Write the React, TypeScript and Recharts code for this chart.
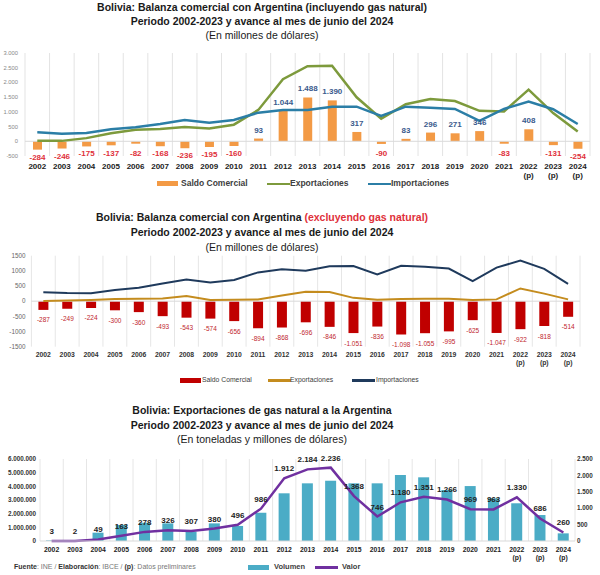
import React from 'react';
import { ComposedChart, Bar, Line, XAxis, YAxis, CartesianGrid, ReferenceLine, LabelList } from 'recharts';

const FONT = '"Liberation Sans", Arial, sans-serif';
const NARROW = '"Liberation Sans Narrow", "Liberation Sans", Arial, sans-serif';

const years = [
  '2002', '2003', '2004', '2005', '2006', '2007', '2008', '2009', '2010', '2011', '2012',
  '2013', '2014', '2015', '2016', '2017', '2018', '2019', '2020', '2021', '2022 (p)', '2023 (p)', '2024 (p)',
];

// con gas natural (millones USD)
const saldoCon = [-284, -246, -175, -137, -82, -168, -236, -195, -160, 93, 1044, 1488, 1390, 317, -90, 83, 296, 271, 346, -83, 408, -131, -254];
const exportCon = [22, 14, 107, 271, 394, 420, 488, 438, 564, 1066, 2109, 2553, 2567, 1494, 771, 1260, 1439, 1370, 1036, 1016, 1755, 959, 334];
const importCon = [306, 260, 282, 408, 476, 588, 724, 633, 724, 973, 1065, 1065, 1177, 1177, 861, 1177, 1143, 1099, 690, 1099, 1347, 1090, 588];
const ticksCon = [-500, 0, 500, 1000, 1500, 2000, 2500, 3000];

// sin gas natural (millones USD)
const saldoSin = [-287, -249, -224, -300, -360, -493, -543, -574, -656, -894, -868, -696, -846, -1051, -836, -1098, -1055, -995, -625, -1047, -922, -818, -514];
const exportSin = [10, 20, 40, 70, 80, 90, 175, 40, 45, 55, 185, 310, 305, 110, 50, 70, 80, 80, 40, 60, 420, 250, 60];
const importSin = [297, 269, 264, 370, 440, 583, 718, 614, 701, 949, 1053, 1006, 1151, 1160, 886, 1168, 1135, 1075, 665, 1107, 1342, 1068, 574];
const ticksSin = [-1500, -1000, -500, 0, 500, 1000, 1500];

// exportaciones de gas (toneladas / millones USD)
const volumen = [40000, 25000, 610000, 1170000, 1340000, 1290000, 680000, 1290000, 1100000, 2070000, 3490000, 4220000, 4410000, 4220000, 4220000, 4830000, 4660000, 3730000, 4020000, 3120000, 2760000, 1900000, 560000];
const valor = [3, 2, 49, 163, 278, 326, 307, 380, 496, 986, 1912, 2184, 2236, 1368, 746, 1180, 1351, 1266, 969, 963, 1330, 686, 260];
const ticksVol = [0, 1000000, 2000000, 3000000, 4000000, 5000000, 6000000];
const ticksVal = [0, 500, 1000, 1500, 2000, 2500];

const fmt = (v: number) =>
  (v < 0 ? '-' : '') + String(Math.abs(Math.round(v))).replace(/\B(?=(\d{3})+(?!\d))/g, '.');

const data1 = years.map((year, i) => ({ year, saldo: saldoCon[i], exp: exportCon[i], imp: importCon[i] }));
const data2 = years.map((year, i) => ({ year, saldo: saldoSin[i], exp: exportSin[i], imp: importSin[i] }));
const data3 = years.map((year, i) => ({ year, vol: volumen[i], val: valor[i] }));

// grid lines between the categories
const bandLines = ({ offset }: any) => {
  const n = years.length;
  return Array.from({ length: n + 1 }, (_, i) => offset.left + (i * offset.width) / n);
};

const YearTick = (props: any) => {
  const { x, y, payload, size, gap, first, color } = props;
  const [yr, p] = String(payload.value).split(' ');
  return (
    <text x={x} y={y} textAnchor="middle" fontFamily={NARROW} fontSize={size} fontWeight="bold" fill={color}>
      <tspan x={x} dy={first}>{yr}</tspan>
      {p && <tspan x={x} dy={gap}>{p}</tspan>}
    </text>
  );
};

const SaldoLabel1 = (props: any) => {
  const { x, y, width, height, value } = props;
  const top = Math.min(y, y + height);
  const bot = Math.max(y, y + height);
  const cx = x + width / 2;
  const pos = value >= 0;
  return (
    <text
      x={cx}
      y={pos ? top - 6 : Math.max(bot + 10, top + 15)}
      textAnchor="middle"
      fontFamily={NARROW}
      fontSize={8}
      fontWeight="bold"
      fill={pos ? '#3a5a8c' : '#e0303a'}
    >
      {fmt(value)}
    </text>
  );
};

const SaldoLabel2 = (props: any) => {
  const { x, y, width, height, value } = props;
  const bot = Math.max(y, y + height);
  return (
    <text x={x + width / 2} y={bot + 12.5} textAnchor="middle" fontFamily={NARROW} fontSize={6.5} fill="#c0262d">
      {fmt(value)}
    </text>
  );
};

const LineSwatch = ({ color, left, top }: any) => (
  <div style={{ position: 'absolute', left, top, width: 23, height: 2.5, background: color }} />
);
const RectSwatch = ({ color, left, top }: any) => (
  <div style={{ position: 'absolute', left, top, width: 21, height: 5, background: color }} />
);
const LegendText = ({ left, top, size, bold, children }: any) => (
  <div style={{ position: 'absolute', left, top, fontSize: size, fontWeight: bold ? 'bold' : 'normal', color: '#404040', lineHeight: 1, whiteSpace: 'nowrap' }}>
    {children}
  </div>
);

const Title = ({ top, lh, lines }: any) => (
  <div style={{ position: 'absolute', left: 0, top, width: 524, textAlign: 'center', fontSize: 10.5, lineHeight: lh + 'px', color: '#1a1a1a' }}>
    {lines}
  </div>
);

export default function App() {
  const orange = '#f39a45';
  const green = '#7d9a3c';
  const blue = '#2b7ea6';
  const red = '#c00000';
  const gold = '#c48c1e';
  const navy = '#1f3a5c';
  const teal = '#4bacc6';
  const purple = '#7030a0';

  return (
    <div style={{ position: 'absolute', left: 0, top: 0, width: 600, height: 575, background: '#fff', fontFamily: FONT, overflow: 'hidden' }}>
      {/* Chart 1 */}
      <Title
        top={0}
        lh={14}
        lines={
          <>
            <div style={{ fontWeight: 'bold' }}>Bolivia: Balanza comercial con Argentina (incluyendo gas natural)</div>
            <div style={{ fontWeight: 'bold' }}>Periodo 2002-2023 y avance al mes de junio del 2024</div>
            <div>(En millones de dólares)</div>
          </>
        }
      />
      <div style={{ position: 'absolute', left: 0, top: 40 }}>
        <ComposedChart width={600} height={150} data={data1} margin={{ top: 13, right: 10, left: 0, bottom: 14 }}>
          <CartesianGrid horizontal={false} stroke="#e3e3e3" verticalCoordinatesGenerator={bandLines} />
          <XAxis
            dataKey="year"
            height={20}
            interval={0}
            tickSize={0}
            tickMargin={0}
            axisLine={false}
            tick={(p: any) => <YearTick {...p} size={8} first={12.8} gap={9} color="#222" />}
          />
          <YAxis
            domain={[-500, 3000]}
            ticks={ticksCon}
            width={25}
            tickSize={0}
            tickMargin={7}
            axisLine={false}
            tickFormatter={fmt}
            tick={{ fontSize: 5.8, fill: '#888', fontFamily: FONT }}
          />
          <ReferenceLine y={0} stroke="#d9d9d9" />
          <Bar dataKey="saldo" fill={orange} barSize={9} isAnimationActive={false}>
            <LabelList dataKey="saldo" content={SaldoLabel1} />
          </Bar>
          <Line dataKey="exp" stroke={green} strokeWidth={2.5} dot={false} isAnimationActive={false} />
          <Line dataKey="imp" stroke={blue} strokeWidth={2.5} dot={false} isAnimationActive={false} />
        </ComposedChart>
      </div>
      <RectSwatch color={orange} left={157} top={181} />
      <LegendText left={181} top={179} size={8.5} bold>Saldo Comercial</LegendText>
      <LineSwatch color={green} left={267} top={182.5} />
      <LegendText left={290} top={179} size={8.5} bold>Exportaciones</LegendText>
      <LineSwatch color={blue} left={368} top={182.5} />
      <LegendText left={391} top={179} size={8.5} bold>Importaciones</LegendText>

      {/* Chart 2 */}
      <Title
        top={210}
        lh={15}
        lines={
          <>
            <div style={{ fontWeight: 'bold' }}>
              Bolivia: Balanza comercial con Argentina <span style={{ color: '#e0303a' }}>(excluyendo gas natural)</span>
            </div>
            <div style={{ fontWeight: 'bold' }}>Periodo 2002-2023 y avance al mes de junio del 2024</div>
            <div>(En millones de dólares)</div>
          </>
        }
      />
      <div style={{ position: 'absolute', left: 0, top: 245 }}>
        <ComposedChart width={600} height={125} data={data2} margin={{ top: 10.7, right: 20, left: 0, bottom: 5 }}>
          <CartesianGrid horizontal={false} stroke="#e6e6e6" verticalCoordinatesGenerator={bandLines} />
          <XAxis
            dataKey="year"
            height={18.3}
            interval={0}
            tickSize={0}
            tickMargin={0}
            axisLine={false}
            tick={(p: any) => <YearTick {...p} size={6.8} first={10.5} gap={7.5} color="#333" />}
          />
          <YAxis
            domain={[-1500, 1500]}
            ticks={ticksSin}
            width={31.4}
            tickSize={0}
            tickMargin={6}
            axisLine={false}
            tick={{ fontSize: 6.3, fill: '#666', fontFamily: FONT }}
          />
          <ReferenceLine y={0} stroke="#d9d9d9" />
          <Bar dataKey="saldo" fill={red} barSize={10} isAnimationActive={false}>
            <LabelList dataKey="saldo" content={SaldoLabel2} />
          </Bar>
          <Line dataKey="exp" stroke={gold} strokeWidth={2} dot={false} isAnimationActive={false} />
          <Line dataKey="imp" stroke={navy} strokeWidth={2} dot={false} isAnimationActive={false} />
        </ComposedChart>
      </div>
      <RectSwatch color={red} left={180} top={378} />
      <LegendText left={202} top={377} size={6.8}>Saldo Comercial</LegendText>
      <LineSwatch color={gold} left={268} top={379} />
      <LegendText left={290} top={377} size={6.8}>Exportaciones</LegendText>
      <LineSwatch color={navy} left={352} top={379} />
      <LegendText left={376} top={377} size={6.8}>Importaciones</LegendText>

      {/* Chart 3 */}
      <Title
        top={403}
        lh={14.5}
        lines={
          <>
            <div style={{ fontWeight: 'bold' }}>Bolivia: Exportaciones de gas natural a la Argentina</div>
            <div style={{ fontWeight: 'bold' }}>Periodo 2002-2023 y avance al mes de junio del 2024</div>
            <div>(En toneladas y millones de dólares)</div>
          </>
        }
      />
      <div style={{ position: 'absolute', left: 0, top: 448 }}>
        <ComposedChart width={600} height={120} data={data3} margin={{ top: 11, right: 0, left: 0, bottom: 0 }}>
          <CartesianGrid yAxisId="left" horizontal={false} stroke="#e6e6e6" verticalCoordinatesGenerator={bandLines} />
          <XAxis
            dataKey="year"
            height={27}
            interval={0}
            tickSize={0}
            tickMargin={0}
            axisLine={{ stroke: '#d9d9d9' }}
            tick={(p: any) => <YearTick {...p} size={6.8} first={11} gap={7.6} color="#222" />}
          />
          <YAxis
            yAxisId="left"
            domain={[0, 6000000]}
            ticks={ticksVol}
            width={40}
            tickSize={0}
            tickMargin={4}
            axisLine={false}
            tickFormatter={fmt}
            tick={{ fontSize: 6.3, fill: '#333', fontFamily: NARROW, fontWeight: 'bold' }}
          />
          <YAxis
            yAxisId="right"
            orientation="right"
            domain={[0, 2500]}
            ticks={ticksVal}
            width={25}
            tickSize={0}
            tickMargin={2}
            axisLine={false}
            tickFormatter={fmt}
            tick={{ fontSize: 6.3, fill: '#333', fontFamily: NARROW, fontWeight: 'bold', textAnchor: 'start' }}
          />
          <Bar yAxisId="left" dataKey="vol" fill={teal} barSize={11} isAnimationActive={false} />
          <Line yAxisId="right" dataKey="val" stroke={purple} strokeWidth={2.5} dot={false} isAnimationActive={false}>
            <LabelList
              dataKey="val"
              position="top"
              offset={7}
              formatter={(v: any) => fmt(Number(v))}
              style={{ fontSize: 8, fontWeight: 'bold', fill: '#222', fontFamily: NARROW }}
            />
          </Line>
        </ComposedChart>
      </div>
      <RectSwatch color={teal} left={248} top={565} />
      <LegendText left={274} top={563} size={7.5} bold>Volumen</LegendText>
      <LineSwatch color={purple} left={315} top={566} />
      <LegendText left={342} top={563} size={7.5} bold>Valor</LegendText>
      <div style={{ position: 'absolute', left: 14, top: 563, fontSize: 7, color: '#777', whiteSpace: 'nowrap', lineHeight: 1 }}>
        <b style={{ color: '#333' }}>Fuente</b>: INE / <b style={{ color: '#333' }}>Elaboración</b>: IBCE / <b style={{ color: '#333' }}>(p)</b>: Datos preliminares
      </div>
    </div>
  );
}
